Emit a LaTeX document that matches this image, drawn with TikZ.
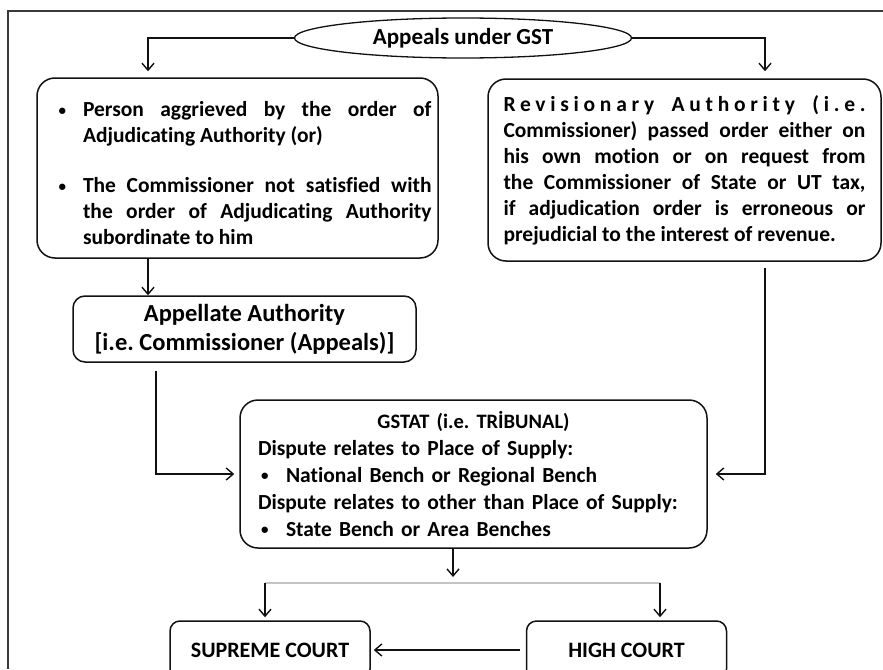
\documentclass[tikz,border=0pt]{standalone}
\usepackage{fontspec}
\setmainfont{Carlito}[Ligatures={TeX,NoCommon}]
\usetikzlibrary{shapes.geometric,arrows.meta,positioning}
\definecolor{gi}{HTML}{111111}
\definecolor{gf}{HTML}{3a3a3a}
\definecolor{gs}{HTML}{c4c4c4}
\newcommand{\gdot}{\raisebox{1.5pt}{\fontsize{15}{15}\selectfont\textbullet}}
\newcommand{\gbul}[2]{\par\hangindent=39.5pt\hangafter=1\noindent\makebox[39.5pt][l]{\hspace{#1}\gdot}#2\par}
\frenchspacing

\begin{document}
\begin{tikzpicture}[x=1pt,y=-1pt,
  font=\fontsize{21.5}{26}\selectfont\bfseries,
  box/.style={draw=gi,line width=1.5pt,rounded corners=18pt,inner ysep=0pt},
  oval/.style={ellipse,draw=gi,line width=1.3pt,minimum width=337pt,minimum height=40pt,inner sep=0pt},
  court/.style={box,rounded corners=10pt,minimum width=200pt,minimum height=58pt,font=\fontsize{22}{26}\selectfont\bfseries},
  arr/.style={draw=gi,line width=1.4pt,-{Straight Barb[length=7pt,width=12pt]}},
  split/.style={draw=gs,line width=1.2pt},
  frame/.style={draw=gf,line width=1.6pt}]
  \useasboundingbox (0,0) rectangle (883,669);
  \clip (0,0) rectangle (883,669);

  % outer frame (cropped at right and bottom)
  \draw[frame] (883,11) -- (8,11) -- (8,669);

  % top
  \node[oval,font=\fontsize{23}{26}\selectfont\bfseries] (appeals) at (463,38) {Appeals under GST};

  % the two ways in
  \node[box,text width=388pt,inner xsep=6.5pt,minimum height=180pt,align=justify] (person) at (237.5,168) {%
    \gbul{15pt}{Person aggrieved by the order of\linebreak Adjudicating Authority (or)}\vskip 24pt
    \gbul{15pt}{The Commissioner not satisfied with\linebreak the order of Adjudicating Authority\linebreak subordinate to him}};
  \node[box,text width=362pt,inner xsep=15.5pt,minimum height=182pt,align=justify] (revision) at (684.5,170) {%
    \noindent\makebox[362pt][s]{\addfontfeature{LetterSpace=22}Revisionary Authority (i.e.}\par
    \noindent Commissioner) passed order either on\linebreak his own motion or on request from\linebreak the Commissioner of State or UT tax,\linebreak if adjudication order is erroneous or\linebreak prejudicial to the interest of revenue.};

  \node[box,rounded corners=12pt,minimum width=343pt,minimum height=66pt,align=center,
    font=\fontsize{24.5}{29}\selectfont\bfseries] (appellate) at (244.5,329)
    {Appellate Authority\\{}[i.e. Commissioner (Appeals)]};

  % tribunal
  \node[box,text width=431pt,inner xsep=18pt,minimum height=148pt,align=left,
    font=\fontsize{21.5}{27}\selectfont\bfseries] (gstat) at (473.5,474) {%
    \makebox[431pt]{\fontsize{20.5}{27}\selectfont GSTAT (i.e. TRİBUNAL)}\\
    Dispute relates to Place of Supply:\\
    \makebox[28pt][l]{\hspace{3pt}\gdot}National Bench or Regional Bench\\
    Dispute relates to other than Place of Supply:\\
    \makebox[28pt][l]{\hspace{3pt}\gdot}State Bench or Area Benches};

  % courts
  \node[court] (supreme) at (270,650) {SUPREME COURT};
  \node[court] (high) at (626.5,650) {HIGH COURT};

  \coordinate (splitM) at (453,577);
  \coordinate (splitL) at (265,583);
  \coordinate (splitR) at (660,583);

  % connectors
  \draw[arr] (appeals.west) -| ([xshift=-89.5pt,yshift=6pt]person.north);
  \draw[arr] (appeals.east) -| ([xshift=80.5pt,yshift=7pt]revision.north);
  \draw[arr] ([xshift=-89.5pt]person.south) -- ([xshift=-96.5pt]appellate.north);
  \draw[arr] ([xshift=-88.5pt,yshift=-8pt]appellate.south) |- ([xshift=-5pt]gstat.west);
  \draw[arr] ([xshift=80.5pt,yshift=-6pt]revision.south) |- ([xshift=8pt]gstat.east);
  \draw[arr] (gstat.south -| splitM) -- (splitM);
  \draw[split] (splitL) -- (splitR);
  \draw[arr,shorten >=3pt] (splitL) -- (supreme.north -| splitL);
  \draw[arr,shorten >=3pt] (splitR) -- (high.north -| splitR);
  \draw[arr] ([xshift=-6pt]high.west) -- ([xshift=3pt]supreme.east);
\end{tikzpicture}
\end{document}
